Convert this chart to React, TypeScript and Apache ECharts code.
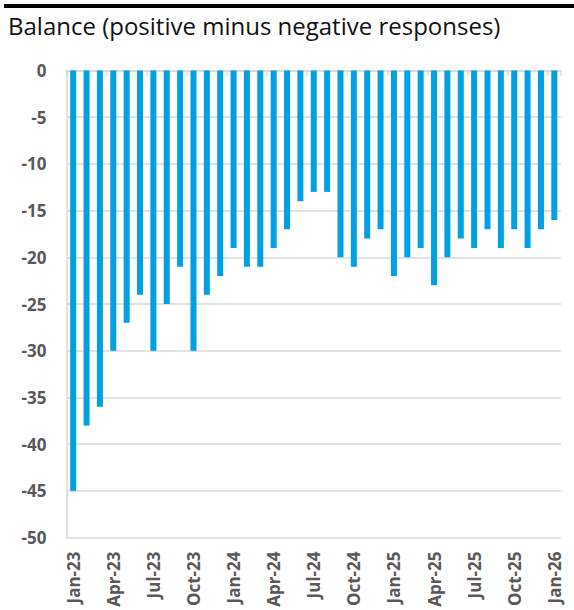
import React, { useEffect, useRef } from "react";
import * as echarts from "echarts";

const categories = [
  "Jan-23", "Feb-23", "Mar-23", "Apr-23", "May-23", "Jun-23", "Jul-23", "Aug-23", "Sep-23", "Oct-23", "Nov-23", "Dec-23",
  "Jan-24", "Feb-24", "Mar-24", "Apr-24", "May-24", "Jun-24", "Jul-24", "Aug-24", "Sep-24", "Oct-24", "Nov-24", "Dec-24",
  "Jan-25", "Feb-25", "Mar-25", "Apr-25", "May-25", "Jun-25", "Jul-25", "Aug-25", "Sep-25", "Oct-25", "Nov-25", "Dec-25",
  "Jan-26",
];

const balance = [
  -45, -38, -36, -30, -27, -24, -30, -25, -21, -30, -24, -22,
  -19, -21, -21, -19, -17, -14, -13, -13, -20, -21, -18, -17,
  -22, -20, -19, -23, -20, -18, -19, -17, -19, -17, -19, -17,
  -16,
];

const titleText = "Balance (positive minus negative responses)";
const yMin = -50;
const yMax = 0;
const yStep = 5;

export default function App() {
  const ref = useRef<HTMLDivElement>(null);
  useEffect(() => {
    if (!ref.current) return;
    const chart = echarts.init(ref.current, undefined, { renderer: "svg" });
    const grey = "#d9d9d9";
    const labelColor = "#595959";
    chart.setOption({
      animation: false,
      backgroundColor: "#ffffff",
      textStyle: { fontFamily: "'Open Sans', sans-serif" },
      title: {
        text: titleText,
        left: 3,
        top: 8,
        textStyle: {
          fontFamily: "'Open Sans', sans-serif",
          fontSize: 24,
          fontWeight: "normal",
          color: "#111111",
        },
      },
      graphic: [
        {
          type: "rect",
          shape: { x: 4, y: 4, width: 570, height: 4 },
          style: { fill: "#000000" },
        },
      ],
      grid: { left: 66.5, right: 13, top: 70.5, bottom: 72.5, containLabel: false },
      xAxis: [
        {
          type: "category",
          data: categories,
          position: "bottom",
          axisLine: { show: false, onZero: false },
          axisTick: { show: false },
          axisLabel: {
            interval: 2,
            rotate: 90,
            margin: 14,
            fontFamily: "'Open Sans', sans-serif",
            fontWeight: "bold",
            fontSize: 17,
            color: labelColor,
          },
          splitLine: { show: false },
        },
        {
          type: "category",
          data: categories,
          position: "top",
          axisLine: { show: true, onZero: false, lineStyle: { color: grey, width: 1.5 } },
          axisTick: { show: true, inside: true, interval: 2, length: 5, lineStyle: { color: grey, width: 1.5 } },
          axisLabel: { show: false },
          splitLine: { show: false },
        },
      ],
      yAxis: {
        type: "value",
        min: yMin,
        max: yMax,
        interval: yStep,
        axisLine: { show: true, lineStyle: { color: grey, width: 1.5 } },
        axisTick: { show: false },
        axisLabel: {
          margin: 20,
          fontFamily: "'Open Sans', sans-serif",
          fontWeight: "bold",
          fontSize: 17,
          color: labelColor,
        },
        splitLine: { show: true, lineStyle: { color: grey, width: 1.5 } },
      },
      series: [
        {
          type: "bar",
          xAxisIndex: 0,
          data: balance,
          barWidth: 6,
          itemStyle: { color: "#00a0e3" },
        },
      ],
    });
    return () => chart.dispose();
  }, []);
  return (
    <div
      ref={ref}
      style={{ position: "fixed", left: 0, top: 0, width: 574, height: 610 }}
    />
  );
}
